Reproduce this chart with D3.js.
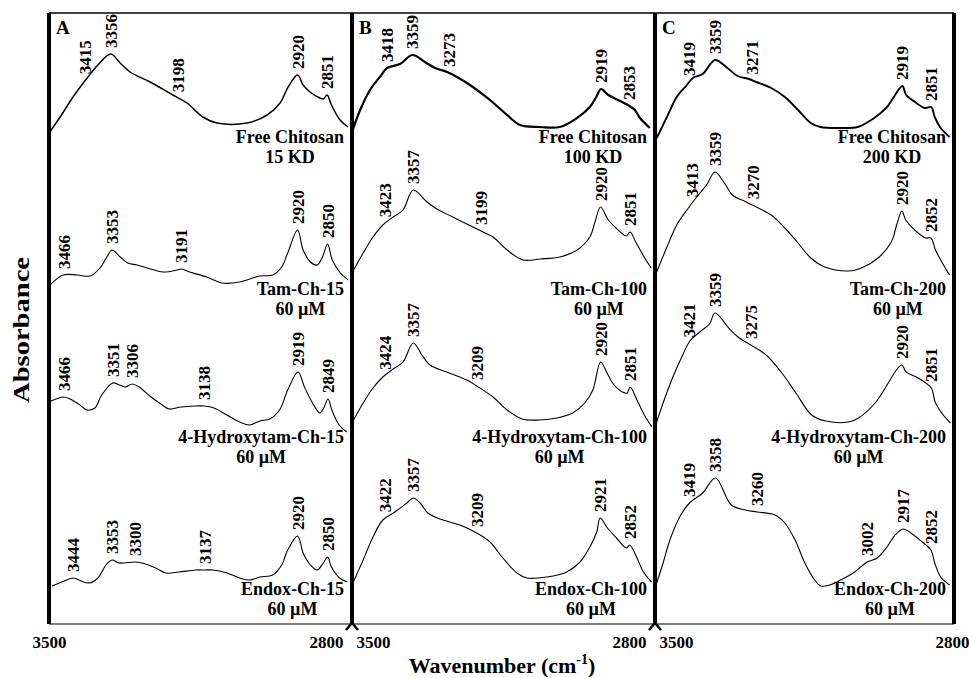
<!DOCTYPE html>
<html>
<head>
<meta charset="utf-8">
<script src="https://cdn.jsdelivr.net/npm/d3@7"></script>
<style>
body { margin: 0; background: #fff; }
svg text { font-family: "Liberation Serif", "Times New Roman", serif; font-weight: bold; fill: #000; }
</style>
</head>
<body>
<div class="main-container"></div>
<script>
// spectra: [wavenumber (cm-1), absorbance (a.u., stacked)]
const freeCh15 = [[3500,4.91],[3474,5.07],[3444,5.27],[3411,5.46],[3386,5.59],[3356,5.70],[3334,5.61],[3311,5.52],[3264,5.42],[3211,5.29],[3178,5.21],[3141,5.07],[3108,5.01],[3038,5.01],[2991,5.09],[2961,5.21],[2942,5.37],[2920,5.49],[2907,5.39],[2891,5.32],[2868,5.26],[2860,5.25],[2851,5.29],[2842,5.20],[2821,5.04],[2802,4.97]];
const tamCh15 = [[3500,3.38],[3467,3.49],[3434,3.49],[3404,3.48],[3381,3.56],[3365,3.67],[3353,3.74],[3334,3.67],[3316,3.61],[3295,3.59],[3271,3.56],[3234,3.52],[3201,3.54],[3191,3.55],[3172,3.52],[3132,3.47],[3097,3.41],[3055,3.42],[3008,3.48],[2978,3.49],[2957,3.57],[2943,3.71],[2920,3.94],[2907,3.74],[2890,3.62],[2874,3.59],[2862,3.67],[2850,3.80],[2839,3.64],[2820,3.51],[2802,3.44]];
const hydroxCh15 = [[3500,2.22],[3466,2.27],[3451,2.25],[3428,2.19],[3412,2.14],[3393,2.16],[3377,2.29],[3351,2.41],[3336,2.39],[3322,2.37],[3306,2.40],[3290,2.37],[3262,2.27],[3239,2.20],[3220,2.15],[3192,2.17],[3160,2.18],[3138,2.18],[3115,2.16],[3085,2.09],[3055,2.02],[3032,1.99],[3008,2.03],[2985,2.05],[2962,2.14],[2943,2.34],[2919,2.52],[2904,2.37],[2885,2.21],[2868,2.11],[2859,2.16],[2849,2.25],[2840,2.14],[2823,1.99],[2805,1.92]];
const endoxCh15 = [[3493,0.38],[3470,0.42],[3444,0.46],[3430,0.44],[3407,0.41],[3386,0.46],[3367,0.59],[3353,0.64],[3337,0.61],[3300,0.62],[3283,0.61],[3251,0.56],[3227,0.51],[3197,0.52],[3157,0.54],[3137,0.54],[3117,0.54],[3085,0.51],[3055,0.46],[3032,0.44],[3008,0.47],[2978,0.49],[2957,0.59],[2943,0.74],[2920,0.88],[2907,0.71],[2890,0.59],[2874,0.54],[2860,0.61],[2850,0.67],[2841,0.57],[2822,0.46],[2804,0.42]];

const freeCh100 = [[3500,4.92],[3481,5.14],[3458,5.34],[3435,5.47],[3418,5.56],[3388,5.60],[3359,5.69],[3330,5.62],[3306,5.56],[3278,5.52],[3255,5.47],[3218,5.37],[3178,5.24],[3138,5.09],[3108,4.99],[3061,4.97],[3015,4.97],[2975,5.06],[2945,5.17],[2930,5.27],[2919,5.35],[2902,5.29],[2879,5.24],[2853,5.18],[2840,5.14],[2828,5.06],[2805,4.96]];
const tamCh100 = [[3500,3.51],[3474,3.71],[3451,3.87],[3428,3.99],[3404,4.07],[3381,4.14],[3357,4.34],[3325,4.22],[3302,4.15],[3265,4.07],[3218,3.97],[3199,3.93],[3171,3.87],[3138,3.74],[3101,3.64],[3061,3.65],[3015,3.67],[2975,3.74],[2945,3.87],[2933,4.02],[2920,4.17],[2902,4.04],[2879,3.94],[2860,3.88],[2851,3.92],[2838,3.82],[2817,3.66],[2802,3.56]];
const hydroxCh100 = [[3500,2.01],[3474,2.21],[3451,2.36],[3428,2.47],[3404,2.55],[3381,2.62],[3357,2.81],[3337,2.69],[3318,2.59],[3279,2.52],[3232,2.44],[3209,2.38],[3171,2.27],[3138,2.14],[3103,2.05],[3061,2.04],[3022,2.06],[2985,2.11],[2957,2.21],[2938,2.34],[2920,2.62],[2906,2.52],[2892,2.41],[2869,2.32],[2858,2.31],[2851,2.37],[2835,2.24],[2818,2.09],[2800,1.97]];
const endoxCh100 = [[3500,0.39],[3474,0.64],[3451,0.87],[3428,1.04],[3400,1.12],[3372,1.21],[3357,1.26],[3341,1.21],[3323,1.11],[3295,1.05],[3248,0.99],[3209,0.91],[3178,0.82],[3148,0.66],[3115,0.51],[3092,0.46],[3045,0.47],[2999,0.52],[2968,0.62],[2945,0.77],[2929,0.92],[2921,1.06],[2904,0.96],[2883,0.86],[2860,0.76],[2852,0.79],[2836,0.67],[2820,0.52],[2801,0.42]];

const freeCh200 = [[3496,4.86],[3472,5.07],[3449,5.27],[3425,5.39],[3411,5.46],[3388,5.50],[3359,5.64],[3330,5.56],[3306,5.48],[3279,5.45],[3262,5.42],[3227,5.36],[3195,5.27],[3164,5.14],[3134,5.01],[3111,4.97],[3064,4.96],[3024,4.97],[2985,5.06],[2955,5.17],[2939,5.27],[2919,5.38],[2910,5.29],[2889,5.22],[2866,5.16],[2851,5.17],[2843,5.07],[2829,4.96],[2808,4.87]];
const tamCh200 = [[3496,3.52],[3472,3.77],[3449,3.99],[3425,4.14],[3402,4.27],[3379,4.39],[3359,4.52],[3337,4.41],[3318,4.29],[3286,4.22],[3262,4.17],[3227,4.09],[3195,3.96],[3164,3.81],[3134,3.66],[3101,3.57],[3045,3.53],[3015,3.56],[2976,3.66],[2945,3.82],[2931,4.01],[2920,4.13],[2911,4.04],[2890,3.94],[2864,3.86],[2852,3.86],[2841,3.74],[2825,3.61],[2808,3.49]];
const hydroxCh200 = [[3496,2.02],[3481,2.21],[3458,2.47],[3435,2.69],[3418,2.83],[3395,2.92],[3372,3.00],[3359,3.11],[3325,2.95],[3302,2.86],[3275,2.79],[3239,2.69],[3202,2.51],[3169,2.31],[3132,2.09],[3099,2.03],[3045,2.02],[3022,2.06],[2983,2.21],[2952,2.41],[2933,2.54],[2920,2.59],[2910,2.52],[2882,2.46],[2851,2.36],[2842,2.22],[2823,2.09],[2806,2.01]];
const endoxCh200 = [[3496,0.41],[3481,0.61],[3465,0.84],[3442,1.07],[3419,1.21],[3388,1.31],[3358,1.46],[3321,1.19],[3288,1.14],[3260,1.12],[3218,1.09],[3195,1.01],[3171,0.84],[3148,0.61],[3125,0.44],[3111,0.38],[3090,0.39],[3064,0.44],[3031,0.52],[3002,0.62],[2978,0.66],[2955,0.77],[2936,0.89],[2917,0.95],[2899,0.91],[2878,0.84],[2852,0.74],[2843,0.61],[2829,0.47],[2808,0.39]];

// labelled peaks per spectrum
const peaksA = [[3415,3356,3198,2920,2851],[3466,3353,3191,2920,2850],[3466,3351,3306,3138,2919,2849],[3444,3353,3300,3137,2920,2850]];
const peaksB = [[3418,3359,3273,2919,2853],[3423,3357,3199,2920,2851],[3424,3357,3209,2920,2851],[3422,3357,3209,2921,2852]];
const peaksC = [[3419,3359,3271,2919,2851],[3413,3359,3270,2920,2852],[3421,3359,3275,2920,2851],[3419,3358,3260,3002,2917,2852]];

const samplesA = [["Free Chitosan","15 KD"],["Tam-Ch-15","60 µM"],["4-Hydroxytam-Ch-15","60 µM"],["Endox-Ch-15","60 µM"]];
const samplesB = [["Free Chitosan","100 KD"],["Tam-Ch-100","60 µM"],["4-Hydroxytam-Ch-100","60 µM"],["Endox-Ch-100","60 µM"]];
const samplesC = [["Free Chitosan","200 KD"],["Tam-Ch-200","60 µM"],["4-Hydroxytam-Ch-200","60 µM"],["Endox-Ch-200","60 µM"]];

const panelNames = ["A", "B", "C"];
const tickLabels = [3500, 2800];

const panels = [
    { name: panelNames[0], series: [freeCh15, tamCh15, hydroxCh15, endoxCh15], peaks: peaksA, samples: samplesA },
    { name: panelNames[1], series: [freeCh100, tamCh100, hydroxCh100, endoxCh100], peaks: peaksB, samples: samplesB },
    { name: panelNames[2], series: [freeCh200, tamCh200, hydroxCh200, endoxCh200], peaks: peaksC, samples: samplesC }
];

// layout
const width = 969, height = 678;
const plotTop = 13, plotBottom = 624;
const borders = [49, 352, 655, 954];
const ranges = [[49, 349], [352, 652], [655, 953]];
const labelRight = [344, 647, 946];
const labelRows = [[143, 163], [295, 315], [443, 463], [595, 615]];
const firstWidth = [1.5, 2.2, 1.9];

const svg = d3.select(".main-container")
    .append("svg")
    .attr("width", width)
    .attr("height", height);

const y = d3.scaleLinear().domain([0, 6.11]).range([plotBottom, plotTop]);

const line = (x) => d3.line()
    .x(d => x(d[0]))
    .y(d => y(d[1]))
    .curve(d3.curveCatmullRom.alpha(0.5));

// linear interpolation of a spectrum at wavenumber wn
const valueAt = (data, wn) => {
    for (let i = 0; i < data.length - 1; i++) {
        const a = data[i], b = data[i + 1];
        if (wn <= a[0] && wn >= b[0]) {
            const t = (a[0] - wn) / (a[0] - b[0]);
            return a[1] + t * (b[1] - a[1]);
        }
    }
    return data[0][1];
};

panels.forEach((p, pi) => {
    const x = d3.scaleLinear().domain([3500, 2800]).range(ranges[pi]);
    const g = svg.append("g");

    p.series.forEach((data, si) => {
        g.append("path")
            .datum(data)
            .attr("fill", "none")
            .attr("stroke", "#000")
            .attr("stroke-width", si === 0 ? firstWidth[pi] : 1.1)
            .attr("stroke-linejoin", "round")
            .attr("d", line(x));

        p.peaks[si].forEach(wn => {
            const py = y(valueAt(data, wn)) - 6;
            g.append("text")
                .attr("transform", "translate(" + x(wn) + "," + py + ") rotate(-90)")
                .attr("dy", "0.35em")
                .attr("font-size", 17)
                .text(wn);
        });

        // sample name, two lines centred on each other
        const t1 = g.append("text")
            .attr("x", labelRight[pi])
            .attr("y", labelRows[si][0])
            .attr("text-anchor", "end")
            .attr("font-size", 18)
            .text(p.samples[si][0]);
        const len = t1.node().getComputedTextLength();
        g.append("text")
            .attr("x", labelRight[pi] - len / 2)
            .attr("y", labelRows[si][1])
            .attr("text-anchor", "middle")
            .attr("font-size", 18)
            .text(p.samples[si][1]);
    });

    g.append("text")
        .attr("x", borders[pi] + 7)
        .attr("y", 34)
        .attr("font-size", 19)
        .text(p.name);

    const axis = g.append("g")
        .attr("transform", "translate(0," + plotBottom + ")")
        .call(d3.axisBottom(x).tickValues(tickLabels).tickFormat(d3.format("d")).tickSize(0).tickPadding(12));
    axis.select(".domain").remove();
    axis.selectAll("text")
        .attr("font-size", 17)
        .attr("font-family", null)
        .attr("text-anchor", (d, i) => i === 0 ? (pi === 0 ? "middle" : "start") : "end")
        .attr("dx", (d, i) => i === 0 ? (pi === 0 ? 0 : 4) : (pi === 2 ? 16 : -6));
});

// frame
svg.append("line").attr("x1", borders[0]).attr("x2", borders[3]).attr("y1", plotTop).attr("y2", plotTop)
    .attr("stroke", "#000").attr("stroke-width", 1.5);
svg.append("line").attr("x1", borders[0]).attr("x2", borders[3]).attr("y1", plotBottom).attr("y2", plotBottom)
    .attr("stroke", "#000").attr("stroke-width", 1.2);
borders.forEach(bx => {
    svg.append("line").attr("x1", bx).attr("x2", bx).attr("y1", plotTop).attr("y2", plotBottom)
        .attr("stroke", "#000").attr("stroke-width", 4);
});
[borders[1], borders[2]].forEach(bx => {
    svg.append("path")
        .attr("d", "M" + (bx - 6) + "," + (plotBottom + 6) + "L" + bx + "," + (plotBottom - 1) + "L" + (bx + 6) + "," + (plotBottom + 6))
        .attr("fill", "none").attr("stroke", "#000").attr("stroke-width", 2.5);
});

// axis titles
svg.append("text")
    .attr("transform", "translate(29,330) rotate(-90)")
    .attr("text-anchor", "middle")
    .attr("font-size", 23)
    .attr("textLength", 146)
    .attr("lengthAdjust", "spacingAndGlyphs")
    .text("Absorbance");

const xt = svg.append("text")
    .attr("x", 502)
    .attr("y", 673)
    .attr("text-anchor", "middle")
    .attr("font-size", 22);
xt.append("tspan").text("Wavenumber (cm");
xt.append("tspan").attr("dy", -9).attr("font-size", 14).text("-1");
xt.append("tspan").attr("dy", 9).text(")");
</script>
</body>
</html>
